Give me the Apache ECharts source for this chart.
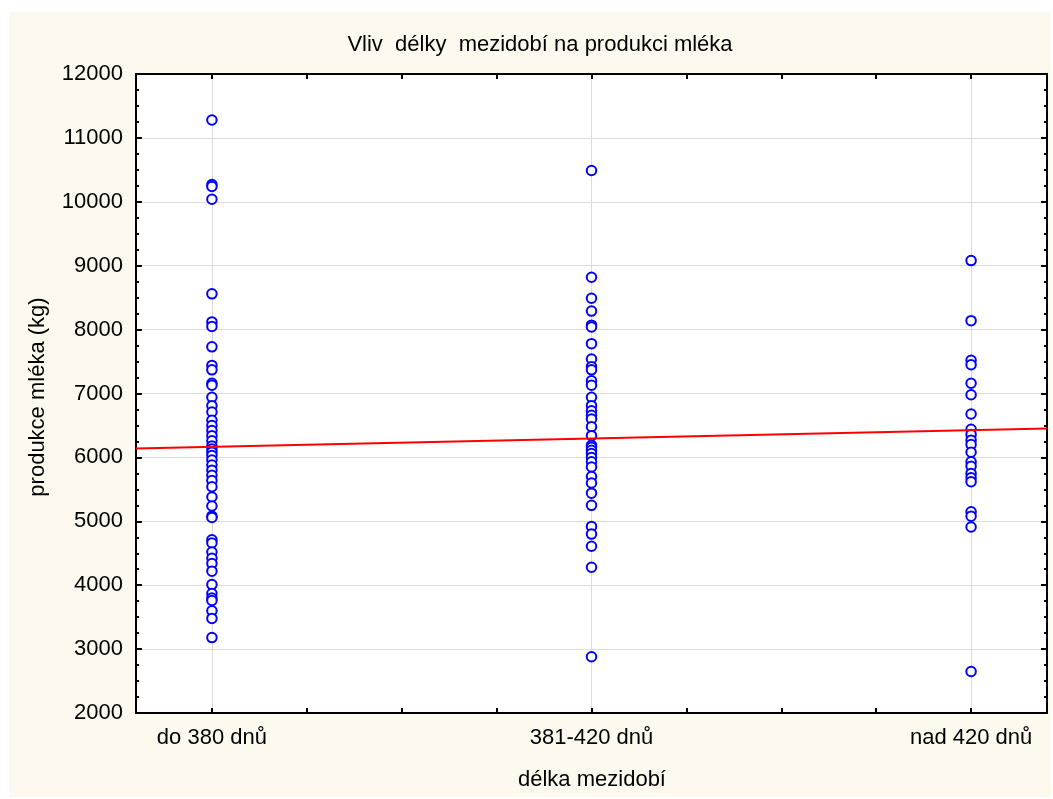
<!DOCTYPE html>
<html>
<head>
<meta charset="utf-8">
<script src="https://cdn.jsdelivr.net/npm/echarts@6/dist/echarts.min.js"></script>
<style>
html,body{margin:0;padding:0;background:#ffffff;}
#chart{position:absolute;left:9px;top:12px;width:1042px;height:785px;background:#fdf9ef;}
</style>
</head>
<body>
<div id="chart"></div>
<script>
// Category labels (x positions 1, 2, 3)
const categories = ['do 380 dnů', '381-420 dnů', 'nad 420 dnů'];
// Milk production (kg) per group
const group1 = [11280, 10270, 10240, 10040, 8560, 8120, 8050, 7730, 7440, 7370, 7160, 7130, 6940, 6810, 6710, 6580, 6500, 6420, 6340, 6260, 6180, 6130, 6080, 6030, 5960, 5880, 5800, 5720, 5640, 5540, 5380, 5240, 5080, 5060, 4710, 4660, 4520, 4420, 4340, 4220, 4010, 3870, 3800, 3760, 3600, 3480, 3180];
const group2 = [10490, 8820, 8490, 8290, 8070, 8040, 7780, 7540, 7420, 7370, 7200, 7130, 6940, 6810, 6730, 6660, 6600, 6480, 6340, 6190, 6160, 6110, 6060, 6000, 5930, 5850, 5700, 5600, 5440, 5250, 4920, 4800, 4610, 4280, 2880];
const group3 = [9080, 8140, 7520, 7450, 7160, 6980, 6680, 6440, 6360, 6270, 6200, 6080, 5930, 5860, 5750, 5680, 5620, 5150, 5080, 4910, 2650];
// Regression line end points
const regX = [0.8, 3.2];
const regY = [6140, 6453];
// Axis ticks
const yTicks = [2000, 3000, 4000, 5000, 6000, 7000, 8000, 9000, 10000, 11000, 12000];
const xMinorTicks = [1, 1.25, 1.5, 1.75, 2, 2.25, 2.5, 2.75, 3];

const groups = [group1, group2, group3];
const scatterData = [];
groups.forEach((g, i) => g.forEach(v => scatterData.push([i + 1, v])));
const lineData = regX.map((x, i) => [x, regY[i]]);

const FONT = "'Liberation Sans', Arial, sans-serif";
const FS = 22;
const chart = echarts.init(document.getElementById('chart'));
const axisLineStyle = {show: true, onZero: false, lineStyle: {color: '#000', width: 2}};
const option = {
  animation: false,
  grid: {left: 127, top: 62, width: 911, height: 639, show: true, backgroundColor: '#ffffff', borderWidth: 0},
  graphic: [
    {type: 'text', x: 531, y: 33, style: {text: 'Vliv  délky  mezidobí na produkci mléka', x: 0, y: 0, align: 'center', verticalAlign: 'middle', font: FS + 'px ' + FONT, fill: '#000'}},
    {type: 'text', x: 29, y: 385, rotation: Math.PI / 2, style: {text: 'produkce mléka (kg)', x: 0, y: 0, align: 'center', verticalAlign: 'middle', font: FS + 'px ' + FONT, fill: '#000'}},
    {type: 'text', x: 583, y: 768, style: {text: 'délka mezidobí', x: 0, y: 0, align: 'center', verticalAlign: 'middle', font: FS + 'px ' + FONT, fill: '#000'}}
  ],
  xAxis: [
    {type: 'value', position: 'bottom', min: 0.8, max: 3.2,
     axisLine: axisLineStyle,
     axisTick: {show: true, inside: true, length: 5, customValues: xMinorTicks, lineStyle: {color: '#000', width: 2}},
     axisLabel: {show: true, customValues: [1, 2, 3], formatter: v => categories[Math.round(v) - 1] || '', color: '#000', fontSize: FS, fontFamily: FONT, margin: 14},
     splitLine: {show: false}},
    {type: 'value', position: 'top', min: 0.8, max: 3.2,
     axisLine: axisLineStyle,
     axisTick: {show: true, inside: true, length: 5, customValues: xMinorTicks, lineStyle: {color: '#000', width: 2}},
     axisLabel: {show: false},
     splitLine: {show: false}},
    {type: 'value', position: 'bottom', min: 0.8, max: 3.2,
     axisLine: {show: false},
     axisTick: {show: false, customValues: [1, 2, 3]},
     axisLabel: {show: false, customValues: [1, 2, 3]},
     splitLine: {show: true, lineStyle: {color: '#dcdcdc', width: 1}}}
  ],
  yAxis: [
    {type: 'value', position: 'left', min: yTicks[0], max: yTicks[yTicks.length - 1], interval: 1000,
     axisLine: axisLineStyle,
     axisTick: {show: true, inside: true, length: 6, lineStyle: {color: '#000', width: 2}},
     minorTick: {show: true, splitNumber: 4, length: 3, lineStyle: {color: '#000', width: 2}},
     axisLabel: {color: '#000', fontSize: FS, fontFamily: FONT, margin: 13, formatter: v => String(v)},
     splitLine: {show: true, lineStyle: {color: '#dcdcdc', width: 1}}},
    {type: 'value', position: 'right', min: yTicks[0], max: yTicks[yTicks.length - 1], interval: 1000,
     axisLine: axisLineStyle,
     axisTick: {show: true, inside: true, length: 6, lineStyle: {color: '#000', width: 2}},
     minorTick: {show: true, splitNumber: 4, length: 3, lineStyle: {color: '#000', width: 2}},
     axisLabel: {show: false},
     splitLine: {show: false}}
  ],
  series: [
    {type: 'scatter', xAxisIndex: 0, yAxisIndex: 0, data: scatterData, symbol: 'emptyCircle', symbolSize: 9.5,
     itemStyle: {color: '#0000ff', borderColor: '#0000ff', borderWidth: 2.6, opacity: 1}, z: 3},
    {type: 'line', xAxisIndex: 0, yAxisIndex: 0, data: lineData, showSymbol: false, symbol: 'none',
     lineStyle: {color: '#ff0000', width: 2}, z: 4}
  ]
};
chart.setOption(option);
</script>
</body>
</html>
